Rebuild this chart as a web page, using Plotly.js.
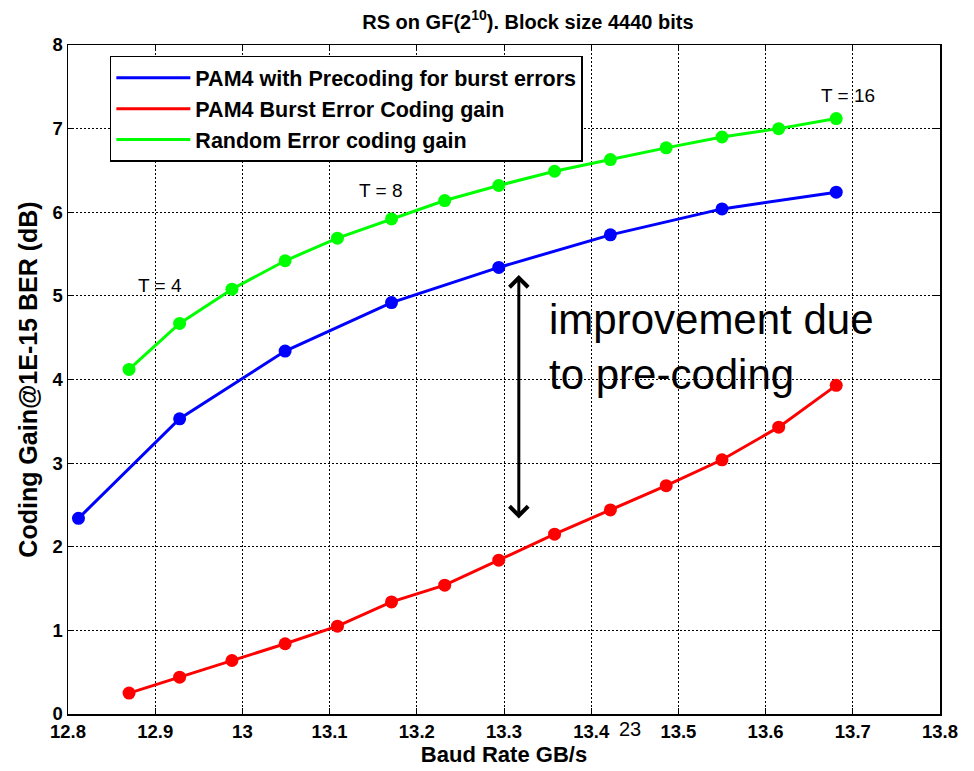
<!DOCTYPE html>
<html>
<head>
<meta charset="utf-8">
<script src="https://cdn.plot.ly/plotly-3.0.1.min.js"></script>
<style>html,body{margin:0;padding:0;background:#fff;}#chart{width:974px;height:771px;}</style>
</head>
<body>
<div id="chart"></div>
<script>
// Baud rate (GB/s) for T = 3..16
var baudT3to16 = [12.870, 12.928, 12.988, 13.049, 13.109, 13.171, 13.232, 13.294, 13.358, 13.422, 13.486, 13.550, 13.615, 13.681];
// Baud rate for T = 2,4,...,16 (precoding curve)
var baudEvenT = [12.812, 12.928, 13.049, 13.171, 13.294, 13.422, 13.550, 13.681];

var gainPrecoding = [2.34, 3.53, 4.34, 4.92, 5.34, 5.73, 6.04, 6.24];
var gainBurst = [0.25, 0.44, 0.64, 0.84, 1.05, 1.34, 1.54, 1.84, 2.15, 2.44, 2.73, 3.04, 3.43, 3.93];
var gainRandom = [4.12, 4.67, 5.08, 5.42, 5.69, 5.92, 6.14, 6.32, 6.49, 6.63, 6.77, 6.90, 7.00, 7.12];

var seriesNames = ["PAM4 with Precoding for burst errors", "PAM4 Burst Error Coding gain", "Random Error coding gain"];
var seriesColors = ["#0000ff", "#ff0000", "#00ff00"];
var seriesX = [baudEvenT, baudT3to16, baudT3to16];
var seriesY = [gainPrecoding, gainBurst, gainRandom];

var font = "Arial, 'Liberation Sans', Helvetica, sans-serif";

var traces = [];
// lines (shown in legend)
for (var i = 0; i < 3; i++) {
  traces.push({x: seriesX[i], y: seriesY[i], name: seriesNames[i], mode: "lines",
    line: {color: seriesColors[i], width: 3}, legendgroup: "g" + i});
}
// markers (not in legend)
for (var j = 0; j < 3; j++) {
  traces.push({x: seriesX[j], y: seriesY[j], name: seriesNames[j], mode: "markers",
    marker: {color: seriesColors[j], size: 13}, showlegend: false, legendgroup: "g" + j});
}

var axisCommon = {
  showline: true, linecolor: "#000", linewidth: 1.5, mirror: "allticks",
  ticks: "inside", ticklen: 6, tickcolor: "#000", tickwidth: 1,
  showgrid: true, gridcolor: "#000", gridwidth: 1, griddash: "2px,2px",
  zeroline: false, tickfont: {family: font, size: 18.5, color: "#000", weight: "bold"}
};

var layout = {
  width: 974, height: 771,
  margin: {l: 68, r: 34, t: 45, b: 57},
  paper_bgcolor: "#fff", plot_bgcolor: "#fff",
  title: {text: "<b>RS on GF(2<sup>10</sup>). Block size 4440 bits</b>",
          font: {family: font, size: 20, color: "#000"},
          x: 0.542, xanchor: "center", y: 0.972, yanchor: "middle", yref: "container"},
  xaxis: Object.assign({}, axisCommon, {
    range: [12.8, 13.8], tick0: 12.8, dtick: 0.1,
    title: {text: "<b>Baud Rate GB/s</b>", font: {family: font, size: 22, color: "#000"}, standoff: 6}
  }),
  yaxis: Object.assign({}, axisCommon, {
    range: [0, 8], tick0: 0, dtick: 1,
    title: {text: "<b>Coding Gain@1E-15 BER (dB)</b>", font: {family: font, size: 25, color: "#000"}, standoff: 8}
  }),
  showlegend: true,
  legend: {x: 0.048, y: 0.984, xanchor: "left", yanchor: "top",
           bgcolor: "#fff", bordercolor: "#000", borderwidth: 1.5,
           font: {family: font, size: 21.5, color: "#000", weight: "bold"},
           itemwidth: 74, tracegroupgap: 0},
  annotations: [
    {x: 12.905, y: 5.12, xref: "x", yref: "y", text: "T = 4", showarrow: false,
     font: {family: font, size: 19, color: "#000"}},
    {x: 13.158, y: 6.26, xref: "x", yref: "y", text: "T = 8", showarrow: false,
     font: {family: font, size: 19, color: "#000"}},
    {x: 13.694, y: 7.40, xref: "x", yref: "y", text: "T = 16", showarrow: false,
     font: {family: font, size: 19, color: "#000"}},
    {x: 13.317, y: 5.25, ax: 13.317, ay: 2.32, xref: "x", yref: "y", axref: "x", ayref: "y",
     text: "", showarrow: true, arrowhead: 4, startarrowhead: 4, arrowside: "end+start",
     arrowwidth: 3, arrowsize: 1.2, startarrowsize: 1.2, arrowcolor: "#000", standoff: 0, startstandoff: 0},
    {x: 13.349, y: 4.39, xref: "x", yref: "y", xanchor: "left", yanchor: "middle", align: "left",
     text: "improvement due<br>to pre-coding", showarrow: false,
     font: {family: font, size: 42, color: "#000"}},
    {x: 13.445, y: -0.022, xref: "x", yref: "paper", yanchor: "middle", text: "23", showarrow: false,
     font: {family: font, size: 20, color: "#000"}}
  ]
};

Plotly.newPlot("chart", traces, layout, {displayModeBar: false, staticPlot: true});
</script>
</body>
</html>
